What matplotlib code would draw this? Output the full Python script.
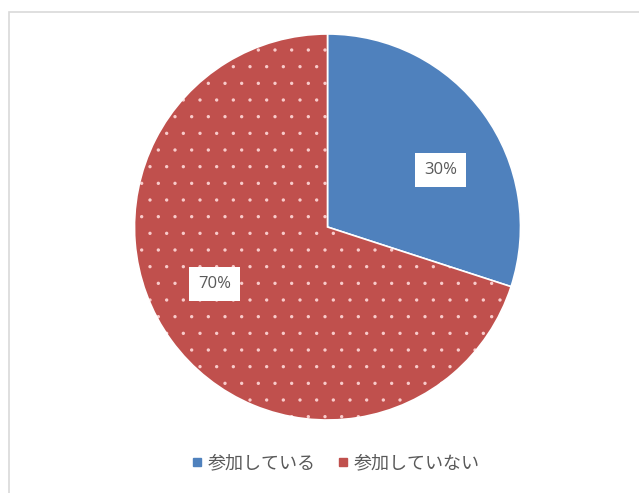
import matplotlib
matplotlib.use("Agg")
import matplotlib.pyplot as plt
from matplotlib.patches import Rectangle
import numpy as np

plt.rcParams['font.family'] = ['Noto Sans CJK JP', 'DejaVu Sans']
plt.rcParams['hatch.linewidth'] = 0.0

categories = ["参加している", "参加していない"]
values = [30, 70]
pct_labels = ["30%", "70%"]
colors = ["#4F81BD", "#C0504D"]
hatches = [None, "."]

W, H = 639, 493
fig = plt.figure(figsize=(W / 100, H / 100), dpi=100)
fig.patch.set_facecolor("white")

# chart border (partially cropped in reference)
fig.patches.append(Rectangle((9 / W, -0.1), 1.2, (H - 12) / H + 0.1,
                             transform=fig.transFigure, fill=False,
                             edgecolor="#d9d9d9", linewidth=1.2))

ax = fig.add_axes([0, 0, 1, 1])

cx, cy, r = 327.5, H - 227, 193
wedges, _ = ax.pie(values, colors=colors, startangle=90, counterclock=False,
                   center=(cx, cy), radius=r,
                   wedgeprops=dict(edgecolor="white", linewidth=1.2))
for w, h in zip(wedges, hatches):
    if h:
        w.set_hatch(h)
        w._hatch_color = (1, 0.85, 0.85, 0.9)

ax.set_xlim(0, W)
ax.set_ylim(0, H)
ax.set_aspect("equal")
ax.axis("off")

# data labels
label_angles = [26.8, 206.8]
label_dist = 0.655
for txt, ang in zip(pct_labels, label_angles):
    a = np.deg2rad(ang)
    ax.text(cx + r * label_dist * np.cos(a), cy + r * label_dist * np.sin(a), txt,
            ha="center", va="center", fontsize=12, color="#595959",
            family=["Open Sans", "DejaVu Sans"],
            bbox=dict(boxstyle="square,pad=0.55", facecolor="white", edgecolor="none"))

# legend
handles = [plt.Line2D([], [], marker="s", linestyle="none", markersize=6,
                      markerfacecolor=c, markeredgecolor=c) for c in colors]
leg = ax.legend(handles, categories, loc="center", bbox_to_anchor=(0.522, 1 - 463 / H),
                ncol=2, frameon=False, fontsize=13, handletextpad=0.1,
                columnspacing=1.0, handlelength=1.0, labelcolor="#595959")

fig.savefig("out.png", dpi=100, facecolor="white")
